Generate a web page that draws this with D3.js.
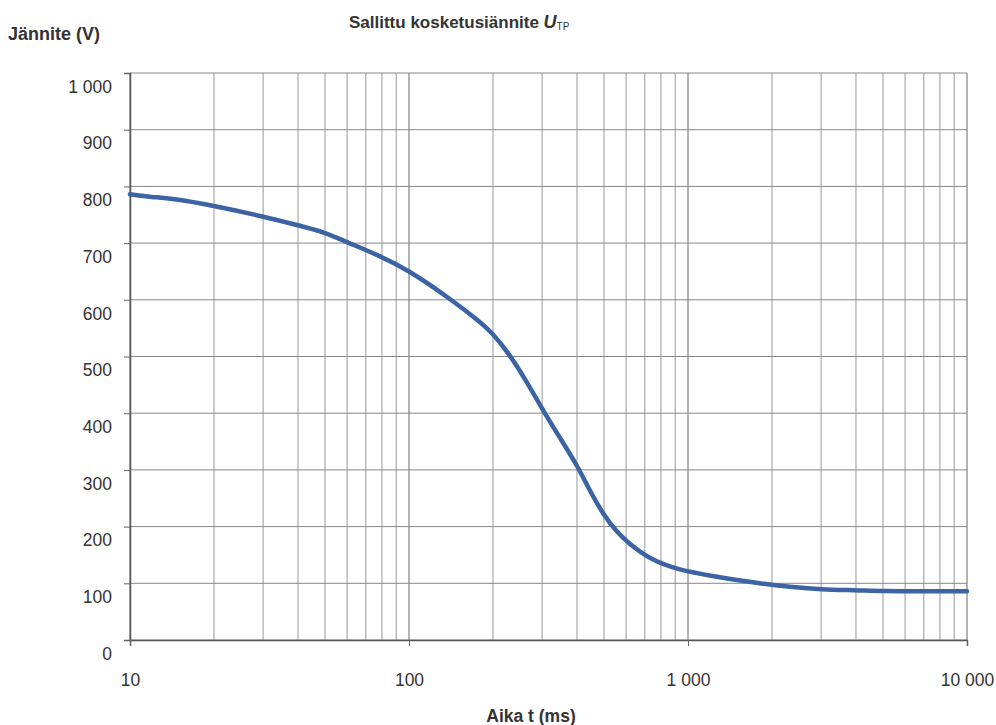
<!DOCTYPE html>
<html>
<head>
<meta charset="utf-8">
<script src="https://cdn.jsdelivr.net/npm/d3@7"></script>
<style>
  body { margin: 0; background: #fff; }
  svg text { font-family: "Liberation Sans", Arial, sans-serif; fill: #333; }
</style>
</head>
<body>
<svg id="chart" width="996" height="725"></svg>
<script>
// curve: time (ms) and allowed touch voltage (V)
const times = [10, 12, 14, 20, 30, 41, 50, 59, 79, 98, 137, 181, 200, 226, 262, 301, 350, 403, 450, 500, 550, 610, 737, 921, 1210, 1840, 2300, 3000, 4000, 5000, 7000, 10000];
const volts = [786, 781, 779, 766, 747, 730, 719, 703, 677, 654, 606, 560, 540, 508, 459, 406, 354, 306, 258, 220, 193, 171, 141, 124, 113, 99, 94, 89, 88, 86, 86, 86];
const xTicks = [10, 100, 1000, 10000];
const yTicks = [0, 100, 200, 300, 400, 500, 600, 700, 800, 900, 1000];

const svg = d3.select("#chart");
const plotL = 130, plotR = 967, plotT = 73, plotB = 640;

const x = d3.scaleLog().domain([10, 10000]).range([plotL, plotR]);
const y = d3.scaleLinear().domain([0, 1000]).range([plotB, plotT]);

const fmtTick = d => d3.format(",d")(d).replace(/,/g, " ");

// vertical grid (every 1..9 within each decade)
const minor = [];
for (let dec = 10; dec < 10000; dec *= 10) {
  for (let k = 1; k <= 9; k++) minor.push(dec * k);
}
minor.push(10000);

svg.append("g")
    .selectAll("line")
    .data(minor)
    .enter()
    .append("line")
    .attr("x1", d => x(d))
    .attr("x2", d => x(d))
    .attr("y1", plotT)
    .attr("y2", plotB)
    .attr("stroke", d => xTicks.includes(d) ? "#666" : "#999")
    .attr("stroke-width", 1);

// horizontal grid
svg.append("g")
    .selectAll("line")
    .data(yTicks)
    .enter()
    .append("line")
    .attr("x1", plotL)
    .attr("x2", plotR)
    .attr("y1", d => y(d))
    .attr("y2", d => y(d))
    .attr("stroke", "#888")
    .attr("stroke-width", 1);

// axes
const yAxis = svg.append("g")
    .attr("transform", "translate(" + plotL + ",0)")
    .call(d3.axisLeft(y).tickValues(yTicks).tickSize(6).tickPadding(12).tickFormat(fmtTick));
yAxis.selectAll("text")
    .attr("dy", "1.1em")
    .style("font-size", "17.5px");

const xAxis = svg.append("g")
    .attr("transform", "translate(0," + plotB + ")")
    .call(d3.axisBottom(x).tickValues(xTicks).tickSize(6).tickPadding(28).tickFormat(fmtTick));
xAxis.selectAll("text")
    .style("font-size", "17.5px");

svg.selectAll(".domain").attr("stroke", "#555").attr("stroke-width", 1.5);
svg.selectAll(".tick line").attr("stroke", "#666");

// curve (smoothed like the hand-drawn original)
const line = d3.line()
    .x((d, i) => x(times[i]))
    .y((d, i) => y(volts[i]))
    .curve(d3.curveBasis);

svg.append("path")
    .datum(volts)
    .attr("d", line)
    .attr("fill", "none")
    .attr("stroke", "#3c63a3")
    .attr("stroke-width", 4.5)
    .attr("stroke-linejoin", "round")
    .attr("stroke-linecap", "round");

// texts
svg.append("text")
    .attr("x", 8)
    .attr("y", 40)
    .style("font-size", "18px")
    .style("font-weight", "bold")
    .text("Jännite (V)");

const title = svg.append("text")
    .attr("x", 349)
    .attr("y", 28)
    .style("font-size", "17px")
    .style("font-weight", "bold");
title.append("tspan").text("Sallittu kosketusiännite ");
title.append("tspan").style("font-style", "italic").style("font-size", "18px").text("U");
title.append("tspan").attr("dy", 2).style("font-size", "10px").style("font-weight", "normal").text("TP");

svg.append("text")
    .attr("x", 531)
    .attr("y", 722)
    .attr("text-anchor", "middle")
    .style("font-size", "17.5px")
    .style("font-weight", "bold")
    .text("Aika t (ms)");
</script>
</body>
</html>
